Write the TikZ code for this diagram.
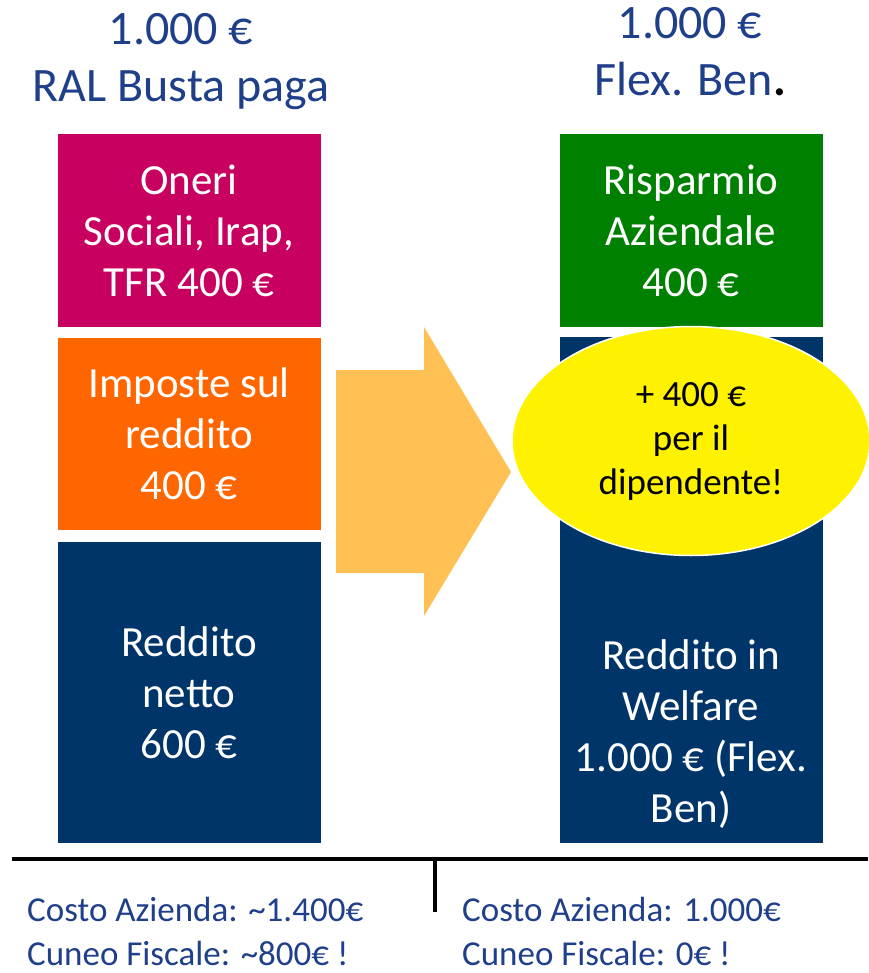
\documentclass[tikz,border=0pt]{standalone}
\usepackage{fontspec}
\setmainfont{Carlito}
\usetikzlibrary{shapes.geometric}

\definecolor{titleblue}{HTML}{1F3F8A}
\definecolor{oneri}{HTML}{C8005F}
\definecolor{imposte}{HTML}{FF6600}
\definecolor{netto}{HTML}{00356A}
\definecolor{risparmio}{HTML}{008000}
\definecolor{freccia}{HTML}{FFC154}

\begin{document}
\begin{tikzpicture}[x=1pt,y=-1pt]
    % stili
    \tikzset{
        box/.style={rectangle, draw=none, inner sep=0pt, minimum width=263pt},
        boxtext/.style={text=white, align=center, font=\fontsize{43}{51}\selectfont},
        title/.style={text=titleblue, align=center, font=\fontsize{48}{57}\selectfont},
        note/.style={text=titleblue, align=left, anchor=west, inner sep=1pt, font=\fontsize{35}{44}\selectfont},
        bubble/.style={ellipse, fill=yellow, draw=white, line width=1.5pt, inner sep=0pt,
            minimum width=358pt, minimum height=229pt, align=center,
            font=\fontsize{37}{44}\selectfont},
    }

    % area del disegno
    \useasboundingbox (0,0) rectangle (868,973);

    % titoli
    \node[title] (tl) at (181,62) {1.000 €\\RAL Busta paga};
    \node[title] (tr) at (690,52) {1.000 €\\Flex. Ben{\color{black}\textbf{.}}};

    % colonna di sinistra
    \node[box, fill=oneri, minimum height=193pt] (oneri) at (189,230.5) {};
    \node[boxtext] at (oneri) {Oneri\\Sociali, Irap,\\TFR 400 €};
    \node[box, fill=imposte, minimum height=192pt] (imposte) at (189,434) {};
    \node[boxtext] at (imposte) {Imposte sul\\reddito\\400 €};
    \node[box, fill=netto, minimum height=301pt] (netto) at (189,692.5) {};
    \node[boxtext] at (netto) {Reddito\\netto\\600 €};

    % colonna di destra
    \node[box, fill=risparmio, minimum height=193pt] (risparmio) at (691,230.5) {};
    \node[boxtext] at (risparmio) {Risparmio\\Aziendale\\400 €};
    \node[box, fill=netto, minimum height=506pt] (welfare) at (691,590) {};
    \node[boxtext] (welfaretxt) at (691,734) {Reddito in\\Welfare\\1.000 € (Flex.\\Ben)};

    % freccia
    \fill[freccia] (336,370) -- (424,370) -- (424,327) -- (511,472)
        -- (424,616) -- (424,573) -- (336,573) -- cycle;

    % ellisse gialla
    \node[bubble] (bonus) at (691,441) {+ 400 €\\per il\\dipendente!};

    % linea di base
    \coordinate (base0) at (12,859);
    \coordinate (base1) at (868,859);
    \coordinate (tick) at (435,912);
    \draw[line width=3.5pt] (base0) -- (base1);
    \draw[line width=3.5pt] (tick |- base0) -- (tick);

    % costi
    \node[note] (costo1) at (26,931) {Costo Azienda: \textasciitilde1.400€\\Cuneo Fiscale: \textasciitilde800€ !};
    \node[note] (costo2) at (461,931) {Costo Azienda: 1.000€\\Cuneo Fiscale: 0€ !};
\end{tikzpicture}
\end{document}
